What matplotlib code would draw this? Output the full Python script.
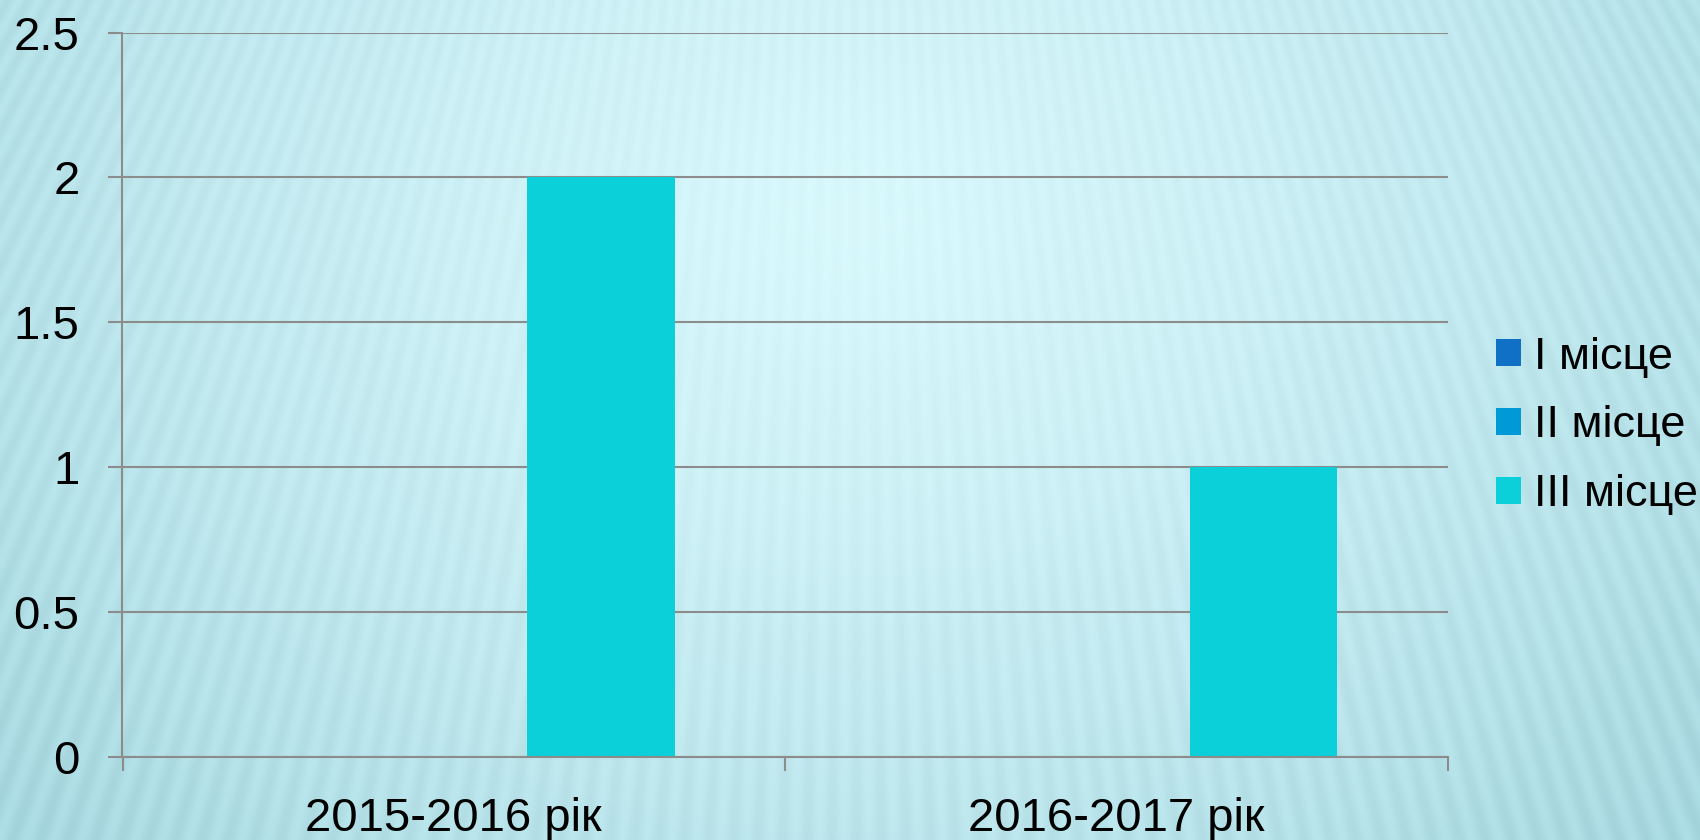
"""Bar chart of prize places by school year."""

import numpy as np
import matplotlib

matplotlib.use("agg")
import matplotlib.pyplot as plt
from matplotlib import rcParams

rcParams["font.family"] = ["Liberation Sans", "DejaVu Sans"]

# data
years = ["2015-2016 рік", "2016-2017 рік"]
series_names = ["I місце", "II місце", "III місце"]
place_1 = [0, 0]
place_2 = [0, 0]
place_3 = [2, 1]
series_colors = ["#1070c6", "#0099d8", "#0bcfd9"]

y_ticks = [0, 0.5, 1, 1.5, 2, 2.5]
y_tick_labels = ["0", "0.5", "1", "1.5", "2", "2.5"]

W, H = 1700, 840
fig = plt.figure(figsize=(W / 100, H / 100), dpi=100)

# background: soft radial gradient with faint fanning stripes
yy, xx = np.mgrid[0:H, 0:W].astype(float)
dist = np.sqrt(((xx - 850) / 1100.0) ** 2 + ((yy - 220) / 900.0) ** 2)
t = np.clip(dist, 0, 1) ** 1.3
c_in = np.array([216, 248, 252]) / 255.0
c_out = np.array([168, 216, 224]) / 255.0
bg = c_in[None, None, :] * (1 - t[..., None]) + c_out[None, None, :] * t[..., None]
ang = np.arctan2(xx - 850, yy + 1500)
stripe = np.sin(ang / 0.0105 * 2 * np.pi) * 0.015
bg = np.clip(bg - stripe[..., None] * (0.4 + t[..., None]), 0, 1)

bg_ax = fig.add_axes([0, 0, 1, 1], zorder=-10)
bg_ax.imshow(bg, aspect="auto", interpolation="bilinear")
bg_ax.axis("off")

ax = fig.add_axes([122.5 / W, 83 / H, 1325 / W, 724.5 / H])
ax.set_facecolor("none")

x_pos = np.arange(len(years))
bar_w = 1.0 / 4.5
all_series = [place_1, place_2, place_3]
for idx, vals in enumerate(all_series):
    ax.bar(
        x_pos + (idx - 1) * bar_w,
        vals,
        width=bar_w,
        color=series_colors[idx],
        label=series_names[idx],
        zorder=3,
    )

ax.set_xlim(-0.5, len(years) - 0.5)
ax.set_ylim(0, 2.5)

grid_col = "#8c8c8c"
ax.set_yticks(y_ticks)
ax.set_yticklabels(y_tick_labels)
ax.yaxis.grid(True, color=grid_col, lw=1.5, zorder=1)
ax.tick_params(
    axis="y", length=10, width=1.5, color=grid_col, labelsize=34, pad=21
)

ax.set_xticks(x_pos)
ax.set_xticklabels(years)
ax.set_xticks(np.arange(-0.5, len(years), 1.0), minor=True)
ax.tick_params(axis="x", which="major", length=0, labelsize=34, pad=29)
ax.tick_params(axis="x", which="minor", length=10, width=1.5, color=grid_col)

for side in ["top", "right"]:
    ax.spines[side].set_visible(False)
for side in ["left", "bottom"]:
    ax.spines[side].set_color(grid_col)
    ax.spines[side].set_linewidth(1.5)
    ax.spines[side].set_zorder(4)

fig.legend(
    loc="center left",
    bbox_to_anchor=(1496 / W, 1 - 426 / H),
    frameon=False,
    fontsize=32.5,
    handlelength=0.55,
    handleheight=0.55,
    handletextpad=0.3,
    labelspacing=0.62,
    borderpad=0,
    borderaxespad=0,
)

plt.savefig("out.png", dpi=100)
plt.close(fig)
